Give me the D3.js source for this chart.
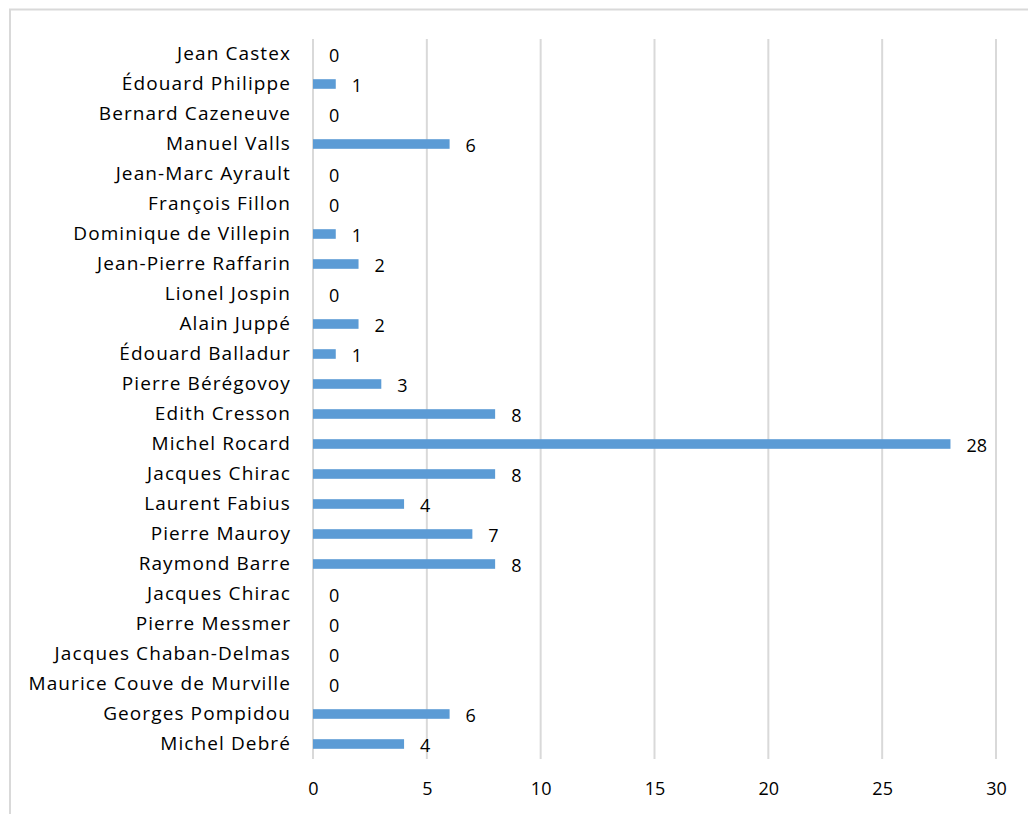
<!DOCTYPE html>
<html>
<head>
<meta charset="utf-8">
<script src="https://cdn.jsdelivr.net/npm/d3@7"></script>
<style>
  body { margin: 0; background: #fff; }
  svg text { font-family: "Open Sans", Lato, sans-serif; fill: #000; }
</style>
</head>
<body>
<div id="chart"></div>
<script>
// ---- data (top to bottom as shown) ----
const names = [
  "Jean Castex", "Édouard Philippe", "Bernard Cazeneuve", "Manuel Valls",
  "Jean-Marc Ayrault", "François Fillon", "Dominique de Villepin", "Jean-Pierre Raffarin",
  "Lionel Jospin", "Alain Juppé", "Édouard Balladur", "Pierre Bérégovoy",
  "Edith Cresson", "Michel Rocard", "Jacques Chirac", "Laurent Fabius",
  "Pierre Mauroy", "Raymond Barre", "Jacques Chirac", "Pierre Messmer",
  "Jacques Chaban-Delmas", "Maurice Couve de Murville", "Georges Pompidou", "Michel Debré"
];
const counts = [0, 1, 0, 6, 0, 0, 1, 2, 0, 2, 1, 3, 8, 28, 8, 4, 7, 8, 0, 0, 0, 0, 6, 4];
const xTicks = [0, 5, 10, 15, 20, 25, 30];

const W = 1028, H = 814;
const margin = { top: 39, left: 313 };

const rows = names.map((n, i) => ({ key: i, name: n, value: counts[i] }));

const svg = d3.select("#chart").append("svg")
  .attr("width", W).attr("height", H);

// chart frame
svg.append("rect")
  .attr("x", 10).attr("y", 9.5)
  .attr("width", W + 20).attr("height", H + 20)
  .attr("fill", "none").attr("stroke", "#d9d9d9").attr("stroke-width", 2);

const g = svg.append("g").attr("transform", `translate(${margin.left},${margin.top})`);

const x = d3.scaleLinear().domain([0, 30]).range([0, 683]);
const y = d3.scaleBand().domain(rows.map(d => d.key)).range([0, 720]).paddingInner(0.68).paddingOuter(0.34);

// gridlines
g.selectAll("line.grid").data(xTicks).enter().append("line")
  .attr("class", "grid")
  .attr("x1", d => x(d)).attr("x2", d => x(d))
  .attr("y1", 0).attr("y2", 720)
  .attr("stroke", "#d9d9d9").attr("stroke-width", 2);

// x axis labels
const xAxis = d3.axisBottom(x).tickValues(xTicks).tickSize(0).tickPadding(0);
const xa = g.append("g").attr("transform", "translate(0,720)").call(xAxis);
xa.select(".domain").remove();
xa.selectAll("text").attr("dy", null).attr("y", 36)
  .attr("font-family", "Open Sans, sans-serif").style("font-size", "18px");

// y axis labels
const yAxis = d3.axisLeft(y).tickSize(0).tickPadding(22).tickFormat(i => names[i]);
const ya = g.append("g").call(yAxis);
ya.select(".domain").remove();
ya.selectAll("text")
  .attr("font-family", "Open Sans, sans-serif")
  .style("font-size", "19px")
  .style("letter-spacing", "1.1px");

// bars
g.selectAll("rect.bar").data(rows).enter().append("rect")
  .attr("class", "bar")
  .attr("x", x(0))
  .attr("y", d => y(d.key))
  .attr("width", d => x(d.value) - x(0))
  .attr("height", y.bandwidth())
  .attr("fill", "#5b9bd5");

// value labels
g.selectAll("text.val").data(rows).enter().append("text")
  .attr("class", "val")
  .attr("x", d => x(d.value) + 16)
  .attr("y", d => y(d.key) + y.bandwidth() / 2)
  .attr("dy", "0.45em")
  .style("font-size", "18px")
  .text(d => d.value);
</script>
</body>
</html>
